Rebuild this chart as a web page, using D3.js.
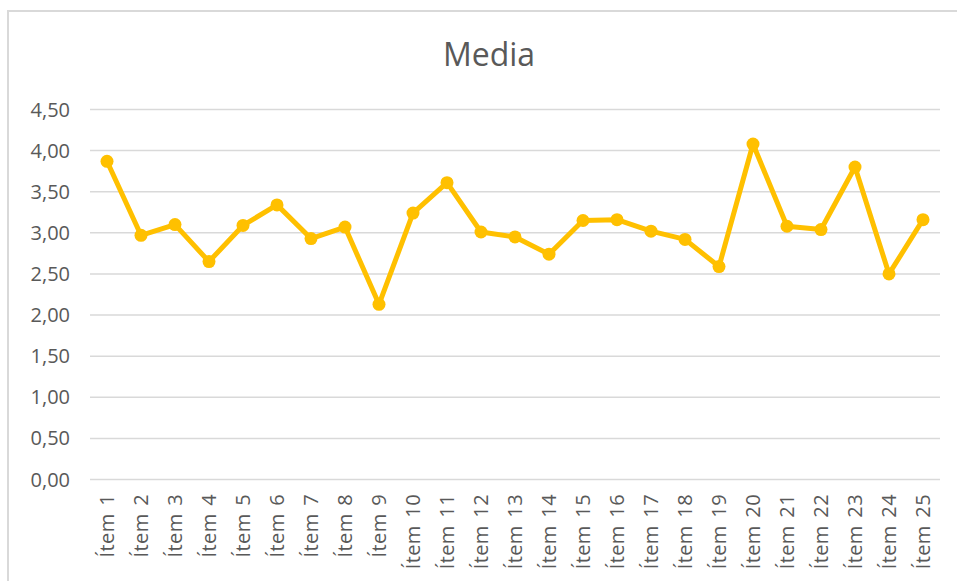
<!DOCTYPE html>
<html>
<head>
  <meta charset="UTF-8">
  <style>
    body { margin: 0; background: #fff; }
    svg { display: block; }
    text { font-family: 'Open Sans', sans-serif; fill: #595959; }
  </style>
</head>
<body>
<svg></svg>
<script src="https://d3js.org/d3.v7.min.js"></script>
<script>
  let width = 957, height = 581;

  // data
  const items = ["Ítem 1","Ítem 2","Ítem 3","Ítem 4","Ítem 5","Ítem 6","Ítem 7","Ítem 8","Ítem 9","Ítem 10",
                 "Ítem 11","Ítem 12","Ítem 13","Ítem 14","Ítem 15","Ítem 16","Ítem 17","Ítem 18","Ítem 19","Ítem 20",
                 "Ítem 21","Ítem 22","Ítem 23","Ítem 24","Ítem 25"];
  const media = [3.87, 2.97, 3.10, 2.65, 3.09, 3.34, 2.93, 3.07, 2.13, 3.24,
                 3.61, 3.01, 2.95, 2.74, 3.15, 3.16, 3.02, 2.92, 2.59, 4.08,
                 3.08, 3.04, 3.80, 2.50, 3.16];
  const yTicks = [0, 0.5, 1, 1.5, 2, 2.5, 3, 3.5, 4, 4.5];

  let svg = d3.select("svg")
      .attr("width", width)
      .attr("height", height);

  // chart frame
  svg.append("rect")
      .attr("x", 8).attr("y", 11)
      .attr("width", 970).attr("height", 600)
      .attr("fill", "none")
      .attr("stroke", "#d9d9d9")
      .attr("stroke-width", 2);

  svg.append("text")
      .attr("x", 489).attr("y", 66)
      .attr("text-anchor", "middle")
      .style("font-size", "32px")
      .text("Media");

  let x = d3.scaleBand().domain(items).range([90, 940]);
  let y = d3.scaleLinear().domain([0, 4.5]).range([479.5, 109.5]);

  // gridlines
  svg.append("g")
      .selectAll("line")
      .data(yTicks)
      .enter()
      .append("line")
      .attr("x1", 90).attr("x2", 940)
      .attr("y1", d => y(d)).attr("y2", d => y(d))
      .attr("stroke", "#d9d9d9")
      .attr("stroke-width", 1.5);

  // y labels, comma decimal
  svg.append("g")
      .selectAll("text")
      .data(yTicks)
      .enter()
      .append("text")
      .attr("x", 70)
      .attr("y", d => y(d))
      .attr("dy", "0.35em")
      .attr("text-anchor", "end")
      .style("font-size", "20px")
      .text(d => d.toFixed(2).replace(".", ","));

  // x labels, rotated
  svg.append("g")
      .selectAll("text")
      .data(items)
      .enter()
      .append("text")
      .attr("transform", d => "translate(" + (x(d) + x.bandwidth() / 2) + ",494) rotate(-90)")
      .attr("dy", "0.35em")
      .attr("text-anchor", "end")
      .style("font-size", "20px")
      .style("letter-spacing", "0.4px")
      .style("word-spacing", "2px")
      .text(d => d);

  let line = d3.line()
      .x((d, i) => x(items[i]) + x.bandwidth() / 2)
      .y(d => y(d));

  svg.append("path")
      .datum(media)
      .attr("d", line)
      .attr("fill", "none")
      .attr("stroke", "#ffc000")
      .attr("stroke-width", 5)
      .attr("stroke-linejoin", "round");

  svg.append("g")
      .selectAll("circle")
      .data(media)
      .enter()
      .append("circle")
      .attr("cx", (d, i) => x(items[i]) + x.bandwidth() / 2)
      .attr("cy", d => y(d))
      .attr("r", 6.5)
      .attr("fill", "#ffc000");
</script>
</body>
</html>
